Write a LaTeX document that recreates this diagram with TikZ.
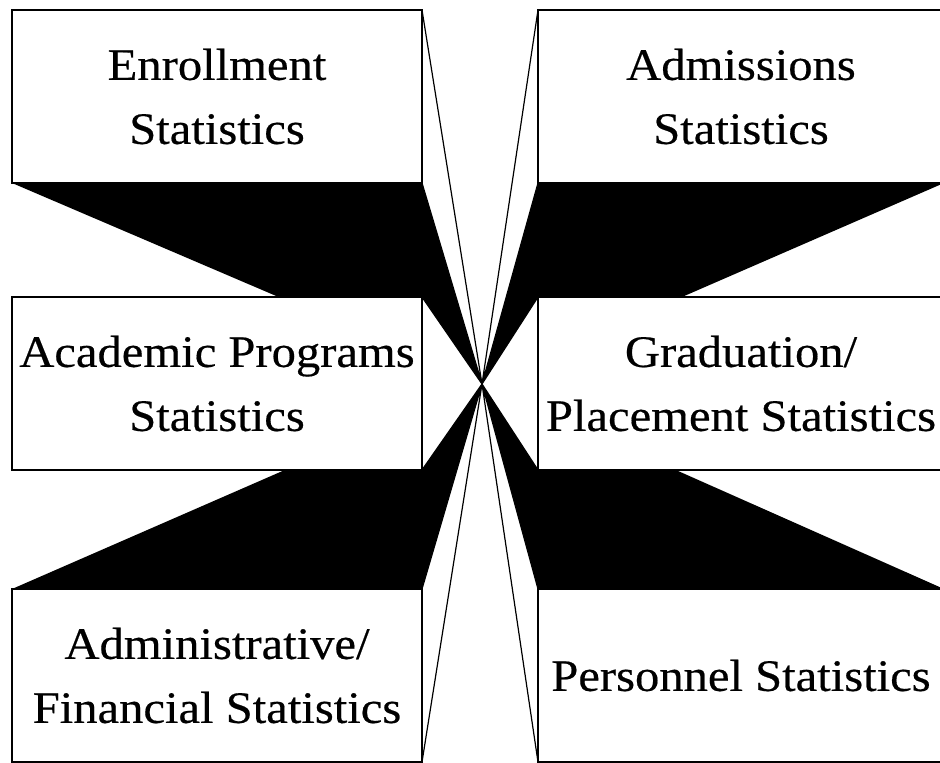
\documentclass[tikz,border=0pt]{standalone}
\usepackage{fontspec}
\newfontfamily\lbl[FakeStretch=1.08,FakeBold=0.4]{Liberation Serif}
\usetikzlibrary{backgrounds}
\begin{document}
\begin{tikzpicture}[x=1bp,y=-1bp,
  box/.style={draw, fill=white, line width=1.6bp, minimum width=410bp, minimum height=173bp,
    inner sep=0pt, outer sep=0pt, align=center,
    font=\lbl\fontsize{45bp}{64bp}\selectfont},
  rbox/.style={box, minimum width=406bp},
  sideface/.style={draw, fill=white, line width=1.2bp, line join=miter},
  darkface/.style={fill=black}]
\useasboundingbox (0,0) rectangle (940,763);
\clip (0,0) rectangle (940,763);
\coordinate (V) at (482,384);
% front faces
\node[box]  (enr) at (217,96.5)  {Enrollment\\Statistics};
\node[box]  (aca) at (217,383.5) {Academic Programs\\Statistics};
\node[box]  (adm) at (217,675.5) {Administrative/\\Financial Statistics};
\node[rbox] (ads) at (741,96.5)  {Admissions\\Statistics};
\node[rbox] (gra) at (741,383.5) {Graduation/\\Placement Statistics};
\node[rbox] (per) at (741,675.5) {Personnel Statistics};
\begin{scope}[on background layer]
  % dark receding faces
  \fill[darkface] (enr.south west) -- (enr.south east) -- (V) -- cycle;
  \fill[darkface] (ads.south west) -- (ads.south east) -- (V) -- cycle;
  \fill[darkface] (adm.north west) -- (adm.north east) -- (V) -- cycle;
  \fill[darkface] (per.north west) -- (per.north east) -- (V) -- cycle;
  % light side faces
  \draw[sideface] (enr.north east) -- (enr.south east) -- (V) -- cycle;
  \draw[sideface] (ads.north west) -- (ads.south west) -- (V) -- cycle;
  \draw[sideface] (aca.north east) -- (aca.south east) -- (V) -- cycle;
  \draw[sideface] (gra.north west) -- (gra.south west) -- (V) -- cycle;
  \draw[sideface] (adm.north east) -- (adm.south east) -- (V) -- cycle;
  \draw[sideface] (per.north west) -- (per.south west) -- (V) -- cycle;
\end{scope}
\end{tikzpicture}
\end{document}
